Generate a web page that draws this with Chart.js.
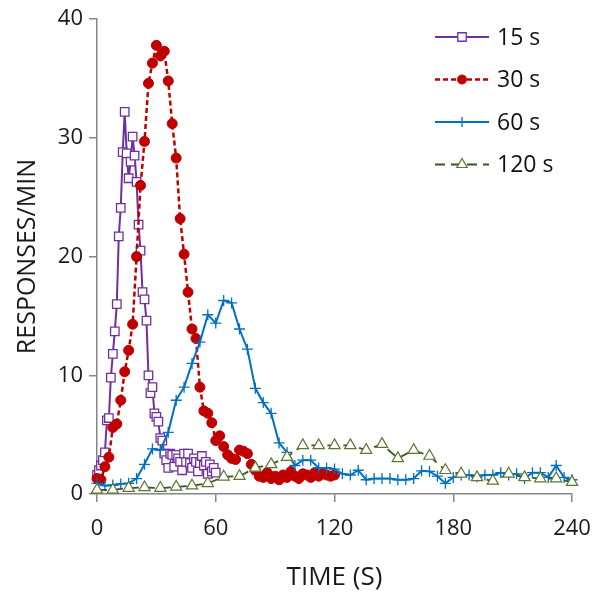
<!DOCTYPE html>
<html>
<head>
<meta charset="utf-8">
<script src="https://cdn.jsdelivr.net/npm/chart.js@4.4.1/dist/chart.umd.min.js"></script>
<style>
  body { margin: 0; background: #fff; }
</style>
</head>
<body>
<canvas id="myChart" width="607" height="599"></canvas>
<script>
// session time (s) for each series
var time15 = [0,1,2,3,4,5,6,7,8,9,10,11,12,13,14,15,16,17,18,19,20,21,22,23,24,25,26,27,28,29,30,
  31,32,33,34,35,36,37,38,39,40,41,42,43,44,45,46,47,48,49,50,51,52,53,54,55,56,57,58,59,60];
var time30 = [0,2,4,6,8,10,12,14,16,18,20,22,24,26,28,30,32,34,36,38,40,42,44,46,48,50,52,54,56,58,60,
  62,64,66,68,70,72,74,76,78,80,82,84,86,88,90,92,94,96,98,100,102,104,106,108,110,112,114,116,118,120];
var time60 = [0,4,8,12,16,20,24,28,32,36,40,44,48,52,56,60,64,68,72,76,80,84,88,92,96,100,104,108,112,116,120,
  124,128,132,136,140,144,148,152,156,160,164,168,172,176,180,184,188,192,196,200,204,208,212,216,220,224,228,232,236,240];
var time120 = [0,8,16,24,32,40,48,56,64,72,80,88,96,104,112,120,128,136,144,152,160,168,176,184,192,200,208,216,224,232,240];

// responses per minute
var resp15 = [1.6,2.0,2.4,2.85,3.5,6.2,6.4,9.8,11.8,13.7,16.0,21.7,24.1,28.8,32.2,28.7,26.6,28.0,30.1,28.5,
  26.3,22.7,20.5,17.0,16.4,14.6,10.0,8.5,9.0,6.8,6.5,6.1,4.7,4.5,3.4,2.85,2.2,3.4,3.3,2.3,
  3.3,3.0,2.7,2.0,3.4,2.7,3.4,2.6,2.2,3.0,2.7,1.9,2.6,3.2,2.4,2.7,1.7,2.5,1.9,2.2,1.8];
var resp30 = [1.3,1.2,2.3,3.1,5.6,5.9,7.9,10.3,12.1,14.3,20.0,26.0,29.7,34.6,36.3,37.8,36.9,37.3,34.8,31.2,
  28.3,23.2,20.2,17.0,13.9,13.1,9.0,7.0,6.8,6.0,4.5,4.9,4.0,3.3,3.0,2.9,3.7,3.6,3.4,2.5,
  2.0,1.5,1.4,1.8,1.3,1.5,1.2,1.6,1.4,1.9,1.5,1.3,1.7,1.6,1.4,1.8,1.5,1.7,1.6,1.5,1.6];
var resp60 = [0.9,0.7,0.75,0.85,0.9,1.3,2.5,3.8,3.7,5.2,7.9,9.0,11.0,12.8,15.1,14.4,16.3,16.1,13.9,12.2,
  8.9,7.7,6.8,4.3,3.5,2.4,2.85,2.85,2.2,2.2,2.1,1.7,1.6,2.0,1.2,1.3,1.3,1.3,1.2,1.2,
  1.3,1.95,1.9,1.5,0.9,1.4,1.6,1.6,1.45,1.6,1.6,1.8,1.6,1.7,1.3,1.8,1.8,1.4,2.4,1.4,1.2];
var resp120 = [0.35,0.35,0.5,0.55,0.5,0.6,0.7,0.9,1.45,1.5,2.2,2.5,3.1,4.1,4.1,4.1,4.1,3.7,4.2,3.0,
  3.7,3.2,2.0,1.7,1.4,1.1,1.7,1.4,1.3,1.3,1.0];

var seriesLabels = ['15 s', '30 s', '60 s', '120 s'];
var xTicks = [0, 60, 120, 180, 240];
var yTicks = [0, 10, 20, 30, 40];

var FONT = '"Open Sans", sans-serif';

function pairs(xs, ys) {
  return ys.map(function(v, i) { return { x: xs[i], y: v }; });
}

function marker(ctx, style, x, y, r) {
  ctx.beginPath();
  if (style === 'rect') {
    var s = r * Math.SQRT1_2;
    ctx.rect(x - s, y - s, 2 * s, 2 * s);
    ctx.fill(); ctx.stroke();
  } else if (style === 'circle') {
    ctx.arc(x, y, r, 0, Math.PI * 2);
    ctx.fill(); ctx.stroke();
  } else if (style === 'cross') {
    ctx.moveTo(x, y - r); ctx.lineTo(x, y + r);
    ctx.moveTo(x - r, y); ctx.lineTo(x + r, y);
    ctx.stroke();
  } else if (style === 'triangle') {
    ctx.moveTo(x, y - r);
    ctx.lineTo(x + r * 0.866, y + r * 0.5);
    ctx.lineTo(x - r * 0.866, y + r * 0.5);
    ctx.closePath();
    ctx.fill(); ctx.stroke();
  }
}

// legend drawn as line + marker like the original
var sideLegend = {
  id: 'sideLegend',
  afterDraw: function(chart) {
    var ctx = chart.ctx;
    chart.data.datasets.forEach(function(ds, i) {
      var y = 37 + i * 42.5;
      ctx.save();
      ctx.strokeStyle = ds.borderColor;
      ctx.lineWidth = ds.borderWidth;
      ctx.setLineDash(ds.borderDash || []);
      ctx.beginPath();
      ctx.moveTo(435, y);
      ctx.lineTo(489, y);
      ctx.stroke();
      ctx.setLineDash([]);
      ctx.fillStyle = ds.pointBackgroundColor;
      ctx.strokeStyle = ds.pointBorderColor;
      ctx.lineWidth = ds.pointBorderWidth;
      marker(ctx, ds.pointStyle, 462, y, ds.legendRadius);
      ctx.fillStyle = '#111';
      ctx.font = '23px ' + FONT;
      ctx.textBaseline = 'middle';
      ctx.textAlign = 'left';
      ctx.fillText(ds.label, 497, y + 1);
      ctx.restore();
    });
  }
};

var ctx = document.getElementById('myChart').getContext('2d');
var chart = new Chart(ctx, {
  type: 'line',
  data: {
    datasets: [{
      label: seriesLabels[0],
      data: pairs(time15, resp15),
      borderColor: '#7030A0',
      borderWidth: 2,
      pointStyle: 'rect',
      pointRadius: 6,
      pointBackgroundColor: '#ffffff',
      pointBorderColor: '#7030A0',
      pointBorderWidth: 1.3,
      legendRadius: 6,
      order: 4
    }, {
      label: seriesLabels[1],
      data: pairs(time30, resp30),
      borderColor: '#C00000',
      borderWidth: 2.5,
      borderDash: [5, 3],
      pointStyle: 'circle',
      pointRadius: 5,
      pointBackgroundColor: '#C00000',
      pointBorderColor: '#C00000',
      pointBorderWidth: 1,
      legendRadius: 4.5,
      order: 3
    }, {
      label: seriesLabels[2],
      data: pairs(time60, resp60),
      borderColor: '#0070C0',
      borderWidth: 2,
      pointStyle: 'cross',
      pointRadius: 5.5,
      pointBackgroundColor: '#0070C0',
      pointBorderColor: '#0070C0',
      pointBorderWidth: 1.3,
      legendRadius: 5,
      order: 2
    }, {
      label: seriesLabels[3],
      data: pairs(time120, resp120),
      borderColor: '#375623',
      borderWidth: 1.8,
      borderDash: [10, 6],
      pointStyle: 'triangle',
      pointRadius: 6.5,
      pointBackgroundColor: '#ffffff',
      pointBorderColor: '#5F7530',
      pointBorderWidth: 1.2,
      legendRadius: 6,
      order: 1
    }]
  },
  options: {
    responsive: false,
    animation: false,
    layout: { padding: { top: 17, right: 35, left: 0, bottom: 0 } },
    elements: { line: { tension: 0, fill: false } },
    datasets: { line: { clip: false } },
    plugins: {
      legend: { display: false },
      tooltip: { enabled: false }
    },
    scales: {
      x: {
        type: 'linear',
        min: 0,
        max: 240,
        afterFit: function(s) { s.height = 105; },
        afterBuildTicks: function(s) { s.ticks = xTicks.map(function(v) { return { value: v }; }); },
        grid: { drawOnChartArea: false, drawTicks: true, tickLength: 8, color: '#868686', lineWidth: 1.5 },
        border: { color: '#868686', width: 1.5 },
        ticks: { color: '#1a1a1a', font: { family: FONT, size: 22 }, padding: 14, maxRotation: 0 },
        title: { display: true, text: 'TIME (S)', color: '#1a1a1a', font: { family: FONT, size: 26 }, padding: { top: 0, bottom: 6 } }
      },
      y: {
        min: 0,
        max: 40,
        afterFit: function(s) { s.width = 97; },
        afterBuildTicks: function(s) { s.ticks = yTicks.map(function(v) { return { value: v }; }); },
        grid: { drawOnChartArea: false, drawTicks: true, tickLength: 8, color: '#868686', lineWidth: 1.5 },
        border: { color: '#868686', width: 1.5 },
        ticks: { color: '#1a1a1a', font: { family: FONT, size: 22 }, padding: 6 },
        title: { display: true, text: 'RESPONSES/MIN', color: '#1a1a1a', font: { family: FONT, size: 25 }, padding: { top: 13, bottom: 0 } }
      }
    }
  },
  plugins: [sideLegend]
});
</script>
</body>
</html>
